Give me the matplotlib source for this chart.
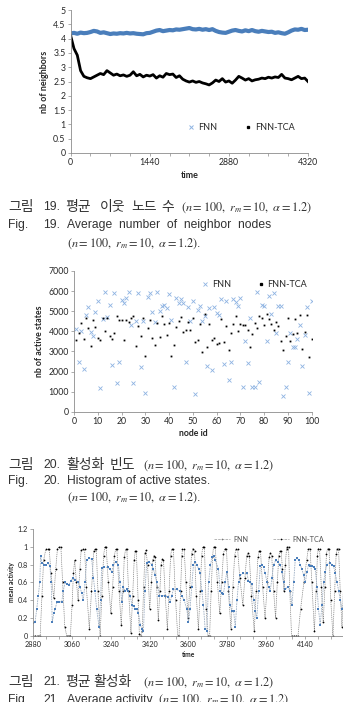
import numpy as np
import matplotlib
matplotlib.use("Agg")
import matplotlib.pyplot as plt
from matplotlib.lines import Line2D
from matplotlib.ticker import MultipleLocator, FuncFormatter

W, H = 343, 702
plt.rcParams["font.family"] = ["Lato", "DejaVu Sans"]
plt.rcParams["mathtext.fontset"] = "stix"

# ---- Fig. 19 : average number of neighbours ----
nb_time = list(range(0, 4321, 60))
nb_fnn = [4.18, 4.20, 4.17, 4.21, 4.19, 4.20, 4.23, 4.27, 4.25, 4.20, 4.22, 4.19, 4.16,
          4.18, 4.17, 4.19, 4.18, 4.20, 4.18, 4.19, 4.17, 4.16, 4.15, 4.19, 4.20, 4.24,
          4.28, 4.30, 4.26, 4.28, 4.30, 4.29, 4.32, 4.31, 4.33, 4.35, 4.37, 4.33, 4.32,
          4.34, 4.31, 4.33, 4.30, 4.33, 4.27, 4.23, 4.21, 4.20, 4.24, 4.28, 4.30, 4.27,
          4.25, 4.29, 4.26, 4.30, 4.26, 4.24, 4.27, 4.25, 4.23, 4.24, 4.20, 4.22, 4.19,
          4.17, 4.22, 4.28, 4.32, 4.31, 4.34, 4.30, 4.31]
nb_tca = [4.10, 3.65, 3.42, 2.88, 2.68, 2.63, 2.60, 2.66, 2.72, 2.78, 2.74, 2.88, 2.80,
          2.72, 2.76, 2.70, 2.73, 2.68, 2.72, 2.84, 2.70, 2.75, 2.66, 2.72, 2.69, 2.74,
          2.62, 2.70, 2.65, 2.78, 2.74, 2.76, 2.64, 2.70, 2.58, 2.52, 2.48, 2.52, 2.47,
          2.50, 2.45, 2.42, 2.38, 2.45, 2.55, 2.50, 2.60, 2.48, 2.52, 2.44, 2.55, 2.68,
          2.62, 2.55, 2.60, 2.52, 2.56, 2.58, 2.62, 2.60, 2.65, 2.62, 2.66, 2.64, 2.75,
          2.62, 2.60, 2.56, 2.62, 2.68, 2.60, 2.62, 2.50]
nb_xticks = [0, 1440, 2880, 4320]
nb_yticks = [0, 0.5, 1, 1.5, 2, 2.5, 3, 3.5, 4, 4.5, 5]

# ---- Fig. 20 : active states per node ----
node_id = list(range(1, 101))
act_fnn = [4100, 2450, 4000, 2100, 4800, 5200, 3950, 3750, 4950, 5500,
           1200, 4600, 5950, 4700, 5300, 2300, 5900, 1450, 2450, 5550,
           5400, 5650, 5950, 4300, 1450, 4500, 5900, 2200, 4500, 950,
           5700, 5900, 4950, 4450, 5950, 5000, 5250, 5300, 5150, 5850,
           4550, 1250, 5650, 5400, 5600, 5400, 2450, 5200, 4500, 5500,
           900, 5050, 5250, 4500, 4750, 2250, 5150, 2050, 5200, 4900,
           4800, 5600, 2350, 5500, 1600, 2450, 5600, 5450, 5250, 5650,
           1250, 3500, 2400, 4650, 1250, 1250, 5950, 1500, 5300, 5250,
           3500, 5750, 4850, 5900, 3900, 5250, 5250, 800, 1250, 2450,
           3900, 3200, 3200, 3600, 4300, 2250, 3800, 5200, 950, 5500]
act_tca = [3550, 3900, 4400, 3600, 4650, 4150, 3250, 4550, 4200, 3650,
           3550, 4650, 4000, 4650, 3750, 3600, 3900, 4750, 4550, 4550,
           3550, 4550, 4450, 4650, 4750, 3250, 4250, 3750, 4650, 2750,
           4150, 4550, 3650, 3300, 4400, 3700, 4750, 4350, 3800, 4400,
           2750, 3300, 4200, 4500, 4700, 3950, 4050, 4450, 4050, 4650,
           3450, 3550, 4350, 2950, 4850, 3200, 4350, 3550, 3650, 3350,
           3400, 4600, 3450, 4250, 3050, 3900, 4350, 4750, 4000, 4350,
           4300, 4300, 4050, 3200, 3850, 4400, 4150, 4750, 4650, 4300,
           4850, 4600, 4350, 4050, 4450, 4250, 3500, 3050, 3750, 4650,
           3500, 3850, 4600, 3900, 4800, 3100, 3950, 4800, 2700, 3600]

# ---- Fig. 21 : mean activity ----
ma_tca_t = [2880, 2890, 2900, 2912, 2920, 2928, 2938, 2946, 2954, 2962, 2975,
            2984, 2992, 3000, 3008, 3016, 3026, 3035, 3044, 3052,
            3060, 3066, 3072, 3080, 3088, 3096, 3102, 3110, 3118, 3126, 3140,
            3150, 3160, 3166, 3172, 3180, 3190,
            3198, 3206, 3212, 3218, 3228, 3240,
            3248, 3256, 3262, 3268, 3278, 3288,
            3296, 3302, 3308, 3314, 3322, 3333,
            3341, 3348, 3353, 3358, 3366, 3372, 3378, 3385,
            3392, 3398, 3403, 3410, 3420,
            3428, 3434, 3440, 3445, 3452, 3460,
            3467, 3473, 3479, 3484, 3492, 3502,
            3510, 3517, 3522, 3530, 3540, 3550, 3556,
            3563, 3569, 3572, 3580, 3588, 3598,
            3606, 3614, 3620, 3628, 3636, 3646,
            3654, 3661, 3666, 3674, 3682, 3690, 3698,
            3705, 3712, 3716, 3724, 3734, 3745,
            3754, 3762, 3768, 3776, 3785, 3797,
            3806, 3814, 3820, 3828, 3838, 3852,
            3862, 3870, 3876, 3882, 3892, 3905,
            3914, 3922, 3928, 3934, 3944, 3955,
            3966, 3974, 3980, 3986, 3995, 4004,
            4012, 4019, 4024, 4030, 4036, 4043,
            4049, 4055, 4058, 4064, 4070, 4078, 4090, 4100, 4108,
            4120, 4135, 4148, 4156, 4164, 4172, 4184,
            4192, 4198, 4202, 4208, 4216, 4225,
            4233, 4240, 4245, 4252, 4260, 4270,
            4278, 4285, 4290, 4296, 4304, 4312, 4320]
ma_tca = [0, 0, 0, 0, 0.45, 0.85, 0.97, 0.97, 0.97, 0.7, 0.42,
          0.75, 0.98, 1.0, 1.0, 0.6, 0.1, 0, 0, 0,
          0.35, 0.7, 0.85, 0.6, 0.4, 0.75, 0.96, 0.97, 0.97, 0.55, 0.08,
          0.5, 0.95, 0.97, 0.97, 0.5, 0.0,
          0.45, 0.9, 1.0, 1.0, 0.6, 0.25,
          0.55, 0.9, 0.97, 0.97, 0.5, 0.12,
          0.5, 0.88, 0.97, 0.97, 0.5, 0.03,
          0.45, 0.85, 0.95, 0.95, 0.4, 0.02, 0, 0.05,
          0.55, 0.93, 0.96, 0.8, 0.3,
          0.6, 0.85, 0.9, 0.88, 0.55, 0.18,
          0.5, 0.8, 0.86, 0.85, 0.45, 0.08,
          0.5, 0.9, 0.97, 0.97, 0.4, 0.0, 0.0,
          0.5, 0.9, 0.97, 0.97, 0.6, 0.2,
          0.55, 0.92, 0.98, 0.95, 0.45, 0.08,
          0.5, 0.9, 1.0, 1.0, 0.3, 0.0, 0.0,
          0.5, 0.9, 1.0, 1.0, 0.6, 0.25,
          0.6, 0.92, 0.98, 0.98, 0.5, 0.08,
          0.55, 0.9, 0.97, 0.97, 0.65, 0.35,
          0.65, 0.9, 0.93, 0.9, 0.45, 0.05,
          0.5, 0.88, 0.95, 0.95, 0.55, 0.2,
          0.6, 0.88, 0.93, 0.9, 0.5, 0.2,
          0.6, 0.9, 0.95, 0.95, 0.75, 0.5,
          0.8, 0.98, 1.0, 1.0, 0.5, 0.0, 0.0, 0.0, 0.0,
          0.3, 0.6, 0.85, 0.98, 0.98, 0.6, 0.05,
          0.5, 0.9, 0.98, 0.98, 0.55, 0.15,
          0.55, 0.92, 0.98, 0.98, 0.4, 0.0,
          0.5, 0.92, 0.98, 0.98, 0.5, 0.1, 0.6]
ma_fnn_t = [2880, 2888, 2896, 2903, 2910, 2914, 2920, 2930, 2940, 2950, 2957, 2963,
            2968, 2975, 2981, 2990, 3000, 3012, 3019, 3027, 3035, 3045, 3055, 3065,
            3075, 3089, 3097, 3104, 3112, 3120, 3128, 3140, 3151, 3159, 3166, 3174,
            3185, 3192, 3197, 3210, 3225, 3236, 3244, 3252, 3262, 3275, 3282, 3290,
            3298, 3306, 3314, 3321, 3330, 3337, 3345, 3352, 3360, 3368, 3377, 3383,
            3391, 3398, 3406, 3418, 3430, 3437, 3445, 3453, 3465, 3475, 3490, 3507,
            3515, 3522, 3530, 3545, 3561, 3569, 3580, 3592, 3600, 3607, 3615, 3623,
            3632, 3639, 3647, 3654, 3662, 3669, 3677, 3685, 3693, 3702, 3710, 3716,
            3725, 3739, 3747, 3755, 3762, 3770, 3778, 3786, 3793, 3800, 3809, 3817,
            3825, 3832, 3840, 3855, 3871, 3878, 3886, 3894, 3902, 3910, 3917, 3925,
            3933, 3940, 3948, 3956, 3964, 3972, 3979, 3987, 3995, 4005, 4015, 4026,
            4033, 4041, 4049, 4060, 4072, 4080, 4088, 4095, 4103, 4111, 4118, 4126,
            4134, 4142, 4150, 4157, 4165, 4173, 4180, 4188, 4196, 4203, 4211, 4219,
            4227, 4234, 4242, 4255, 4265, 4273, 4281, 4289, 4297, 4304, 4312, 4320]
ma_fnn = [0.14, 0.15, 0.30, 0.45, 0.60, 0.90, 0.82, 0.80, 0.80, 0.82, 0.78, 0.60,
          0.15, 0.25, 0.30, 0.38, 0.38, 0.38, 0.50, 0.60, 0.58, 0.57, 0.62, 0.65,
          0.63, 0.60, 0.55, 0.48, 0.40, 0.60, 0.85, 0.87, 0.86, 0.65, 0.50, 0.30,
          0.10, 0.40, 0.76, 0.77, 0.77, 0.75, 0.72, 0.80, 0.83, 0.80, 0.60, 0.38,
          0.55, 0.50, 0.52, 0.50, 0.45, 0.35, 0.33, 0.30, 0.30, 0.25, 0.12, 0.08,
          0.05, 0.50, 0.82, 0.83, 0.80, 0.75, 0.68, 0.60, 0.45, 0.45, 0.45, 0.44,
          0.38, 0.45, 0.52, 0.52, 0.50, 0.45, 0.40, 0.30, 0.15, 0.30, 0.55, 0.80,
          0.83, 0.80, 0.75, 0.70, 0.50, 0.35, 0.08, 0.05, 0.60, 0.80, 0.88, 0.90,
          0.85, 0.75, 0.50, 0.48, 0.47, 0.60, 0.72, 0.55, 0.35, 0.28, 0.28, 0.10,
          0.40, 0.60, 0.68, 0.70, 0.70, 0.62, 0.60, 0.58, 0.40, 0.28, 0.20, 0.50,
          0.78, 0.80, 0.77, 0.70, 0.60, 0.55, 0.50, 0.65, 0.80, 0.85, 0.83, 0.80,
          0.72, 0.60, 0.52, 0.55, 0.50, 0.35, 0.60, 0.85, 0.87, 0.85, 0.80, 0.75,
          0.68, 0.60, 0.72, 0.80, 0.78, 0.78, 0.77, 0.75, 0.55, 0.30, 0.12, 0.35,
          0.60, 0.72, 0.80, 0.82, 0.80, 0.78, 0.70, 0.60, 0.50, 0.40, 0.30, 0.35]
ma_xticks = [2880, 3060, 3240, 3420, 3600, 3780, 3960, 4140]
ma_yticks = [0, 0.2, 0.4, 0.6, 0.8, 1, 1.2]

BLUE = "#4a7ebb"
LIGHT_BLUE = "#8db3e2"
AXIS = "#8c8c8c"
TXT = "#262626"


def box(left, top, right, bottom):
    return [left / W, 1 - bottom / H, (right - left) / W, (bottom - top) / H]


def style(ax, size):
    for s in ["top", "right"]:
        ax.spines[s].set_visible(False)
    for s in ["left", "bottom"]:
        ax.spines[s].set_color(AXIS)
        ax.spines[s].set_linewidth(0.6)
    ax.tick_params(which="both", direction="out", length=2.2, width=0.5,
                   color=AXIS, labelsize=size, labelcolor=TXT, pad=1.5)


def gfmt(v, pos):
    return "%g" % v


fig = plt.figure(figsize=(W / 100, H / 100), dpi=100)

# chart 1
ax1 = fig.add_axes(box(70.7, 10, 308, 153))
ax1.plot(nb_time, nb_fnn, color=BLUE, lw=3.0, solid_joinstyle="round")
ax1.plot(nb_time, nb_tca, color="black", lw=2.0, solid_joinstyle="round")
ax1.set_xlim(0, 4320)
ax1.set_ylim(0, 5)
ax1.set_xticks(nb_xticks)
ax1.xaxis.set_minor_locator(MultipleLocator(360))
ax1.set_yticks(nb_yticks)
ax1.yaxis.set_major_formatter(FuncFormatter(gfmt))
style(ax1, 6.3)
ax1.set_xlabel("time", fontsize=6.5, fontweight="bold", color=TXT, labelpad=3)
ax1.set_ylabel("nb of neighbors", fontsize=6.5, fontweight="bold", color=TXT, labelpad=3)
h1 = [Line2D([], [], ls="none", marker="x", ms=2.5, mew=0.7, color=LIGHT_BLUE),
      Line2D([], [], ls="none", marker="s", ms=1.4, color="black")]
ax1.legend(h1, ["FNN", "FNN-TCA"], ncol=2, frameon=False, fontsize=6.5,
           loc="center", bbox_to_anchor=(0.72, 0.175), handlelength=0.6,
           handletextpad=0.4, columnspacing=3.2, labelcolor=TXT)

# chart 2
ax2 = fig.add_axes(box(74, 271, 311.7, 411.7))
ax2.plot(node_id, act_fnn, ls="none", marker="x", ms=2.6, mew=0.6, color=LIGHT_BLUE)
ax2.plot(node_id, act_tca, ls="none", marker="s", ms=1.3, mew=0, color="black")
ax2.set_xlim(0, 100)
ax2.set_ylim(0, 7000)
ax2.xaxis.set_major_locator(MultipleLocator(10))
ax2.yaxis.set_major_locator(MultipleLocator(1000))
style(ax2, 6.3)
ax2.set_xlabel("node id", fontsize=6.3, fontweight="bold", color=TXT, labelpad=2)
ax2.set_ylabel("nb of active states", fontsize=6.3, fontweight="bold", color=TXT, labelpad=3)
h2 = [Line2D([], [], ls="none", marker="x", ms=2.5, mew=0.6, color=LIGHT_BLUE),
      Line2D([], [], ls="none", marker="s", ms=1.4, color="black")]
ax2.legend(h2, ["FNN", "FNN-TCA"], ncol=2, frameon=False, fontsize=6.5,
           loc="center", bbox_to_anchor=(0.76, 0.905), handlelength=0.6,
           handletextpad=0.4, columnspacing=3.0, labelcolor=TXT)

# chart 3
ax3 = fig.add_axes(box(33.3, 529, 343.7, 635.7))
ax3.plot(ma_tca_t, ma_tca, color="#7a7a7a", lw=0.5, ls=(0, (1.5, 1.2)),
         marker="o", ms=1.3, mew=0, mfc="black")
ax3.plot(ma_fnn_t, ma_fnn, color="#9fb0c4", lw=0.6, ls=(0, (2, 1)),
         marker="s", ms=1.9, mew=0, mfc=BLUE)
ax3.set_xlim(2880, 4320)
ax3.set_ylim(0, 1.2)
ax3.set_xticks(ma_xticks)
ax3.xaxis.set_minor_locator(MultipleLocator(60))
ax3.set_yticks(ma_yticks)
ax3.yaxis.set_major_formatter(FuncFormatter(gfmt))
style(ax3, 5.2)
ax3.set_xlabel("time", fontsize=4.8, fontweight="bold", color=TXT, labelpad=2)
ax3.set_ylabel("mean activity", fontsize=4.8, fontweight="bold", color=TXT, labelpad=2)
h3 = [Line2D([], [], color="#9a9a9a", lw=0.5, ls="--", marker="o", ms=1.2, mfc="#777", mew=0),
      Line2D([], [], color="#9a9a9a", lw=0.5, ls="--", marker="o", ms=1.2, mfc="black", mew=0)]
ax3.legend(h3, ["FNN", "FNN-TCA"], ncol=2, frameon=False, fontsize=5.2,
           loc="center", bbox_to_anchor=(0.76, 0.905), handlelength=2.2,
           handletextpad=0.4, columnspacing=3.5, labelcolor="#555")

# captions
KR = ["Noto Sans CJK KR", "DejaVu Sans"]
LAT = ["Liberation Sans", "DejaVu Sans"]
MATH = r"$(n=100,\ r_{m}=10,\ \alpha=1.2)$"
CAP = 8.7
KCAP = 10.0


def put(x, y, s, fam, size=CAP, va="center"):
    fig.text(x / W, 1 - y / H, s, family=fam, fontsize=size, color="#333333",
             ha="left", va=va)


def korean_line(y, num, words):
    put(8, y, "그림", KR, KCAP)
    put(43, y, num, LAT)
    for x, w in words:
        put(x, y, w, KR, KCAP)


korean_line(207, "19.", [(65, "평균"), (100, "이웃"), (131, "노드"), (161, "수")])
put(181, 208, MATH, LAT, 8.8)
put(8, 225, "Fig.", LAT)
put(43, 225, "19.", LAT)
put(67, 225, "Average  number  of  neighbor  nodes", LAT)
put(67, 244, MATH + ".", LAT, 8.8)

korean_line(465, "20.", [(66, "활성화"), (110, "빈도")])
put(143, 466, MATH, LAT, 8.8)
put(8, 481, "Fig.", LAT)
put(43, 481, "20.", LAT)
put(67, 481, "Histogram of active states.", LAT)
put(67, 498, MATH + ".", LAT, 8.8)

korean_line(682, "21.", [(65, "평균"), (93, "활성화")])
put(143, 683, MATH, LAT, 8.8)
put(8, 703, "Fig.", LAT, va="baseline")
put(43, 703, "21.", LAT, va="baseline")
put(67, 703, "Average activity", LAT, va="baseline")
put(158, 703, MATH, LAT, 8.8, va="baseline")

fig.savefig("out.png", dpi=100)
